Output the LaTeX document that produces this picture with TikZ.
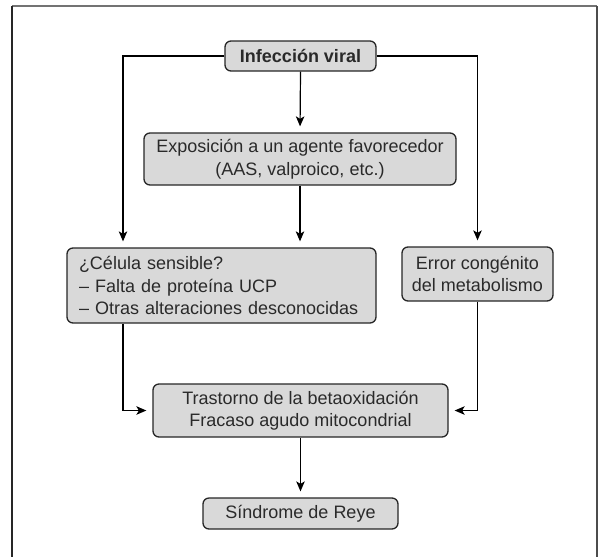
\documentclass[tikz,border=0pt]{standalone}
\usepackage{fontspec}
\setmainfont{Liberation Sans}
\usetikzlibrary{arrows.meta}
\definecolor{boxfill}{HTML}{D9D9D9}
\definecolor{boxline}{HTML}{262626}
\definecolor{txt}{HTML}{2A2A2A}
\begin{document}
\begin{tikzpicture}[x=1pt,y=-1pt,
  stepbox/.style={draw=boxline, fill=boxfill, rounded corners=6pt, line width=1.3pt,
    inner sep=0pt, align=center, text=txt,
    font=\fontsize{18}{22.5}\selectfont},
  conn/.style={line width=1.2pt, draw=black},
  arr/.style={conn, -{Stealth[length=10pt,width=8.5pt,inset=2.5pt]}, shorten >=6pt}]
\useasboundingbox (0,0) rectangle (609,557);
% frame
\draw[line width=1.5pt, draw=black!55] (12,6) -- (597,6);
\draw[line width=1.5pt, draw=black!85] (12,6) -- (12,557);
\draw[line width=1.5pt, draw=black!70] (597,6) -- (597,557);
% nodes
\node[stepbox, minimum width=151pt, minimum height=30pt, font=\fontsize{18}{22.5}\selectfont\bfseries]
  (inf) at (300.5,56) {Infección viral};
\node[stepbox, minimum width=312pt, minimum height=52pt]
  (exp) at (300,159) {Exposición a un agente favorecedor\\(AAS, valproico, etc.)};
\node[stepbox, inner xsep=12pt, text width=285pt, minimum height=75pt, align=left]
  (cel) at (221.5,285.5) {¿Célula sensible?\\– Falta de proteína UCP\\– Otras alteraciones desconocidas};
\node[stepbox, minimum width=151pt, minimum height=54pt]
  (err) at (477.5,274) {Error congénito\\del metabolismo};
\node[stepbox, minimum width=295pt, minimum height=53pt]
  (tra) at (300.5,410.5) {Trastorno de la betaoxidación\\Fracaso agudo mitocondrial};
\node[stepbox, minimum width=195pt, minimum height=31pt]
  (sin) at (300.5,513.5) {Síndrome de Reye};
% connectors
\draw[arr] (inf.west) -| (cel.north -| 123,0);
\draw[arr] (inf.east) -| (err.north);
\draw[arr] (inf.south) -- (exp.north);
\draw[arr] (exp.south) -- (cel.north -| exp.south);
\draw[arr] (cel.south -| 123,0) |- (tra.west);
\draw[arr] (err.south) |- (tra.east);
\draw[arr] (tra.south) -- (sin.north);
\end{tikzpicture}
\end{document}
